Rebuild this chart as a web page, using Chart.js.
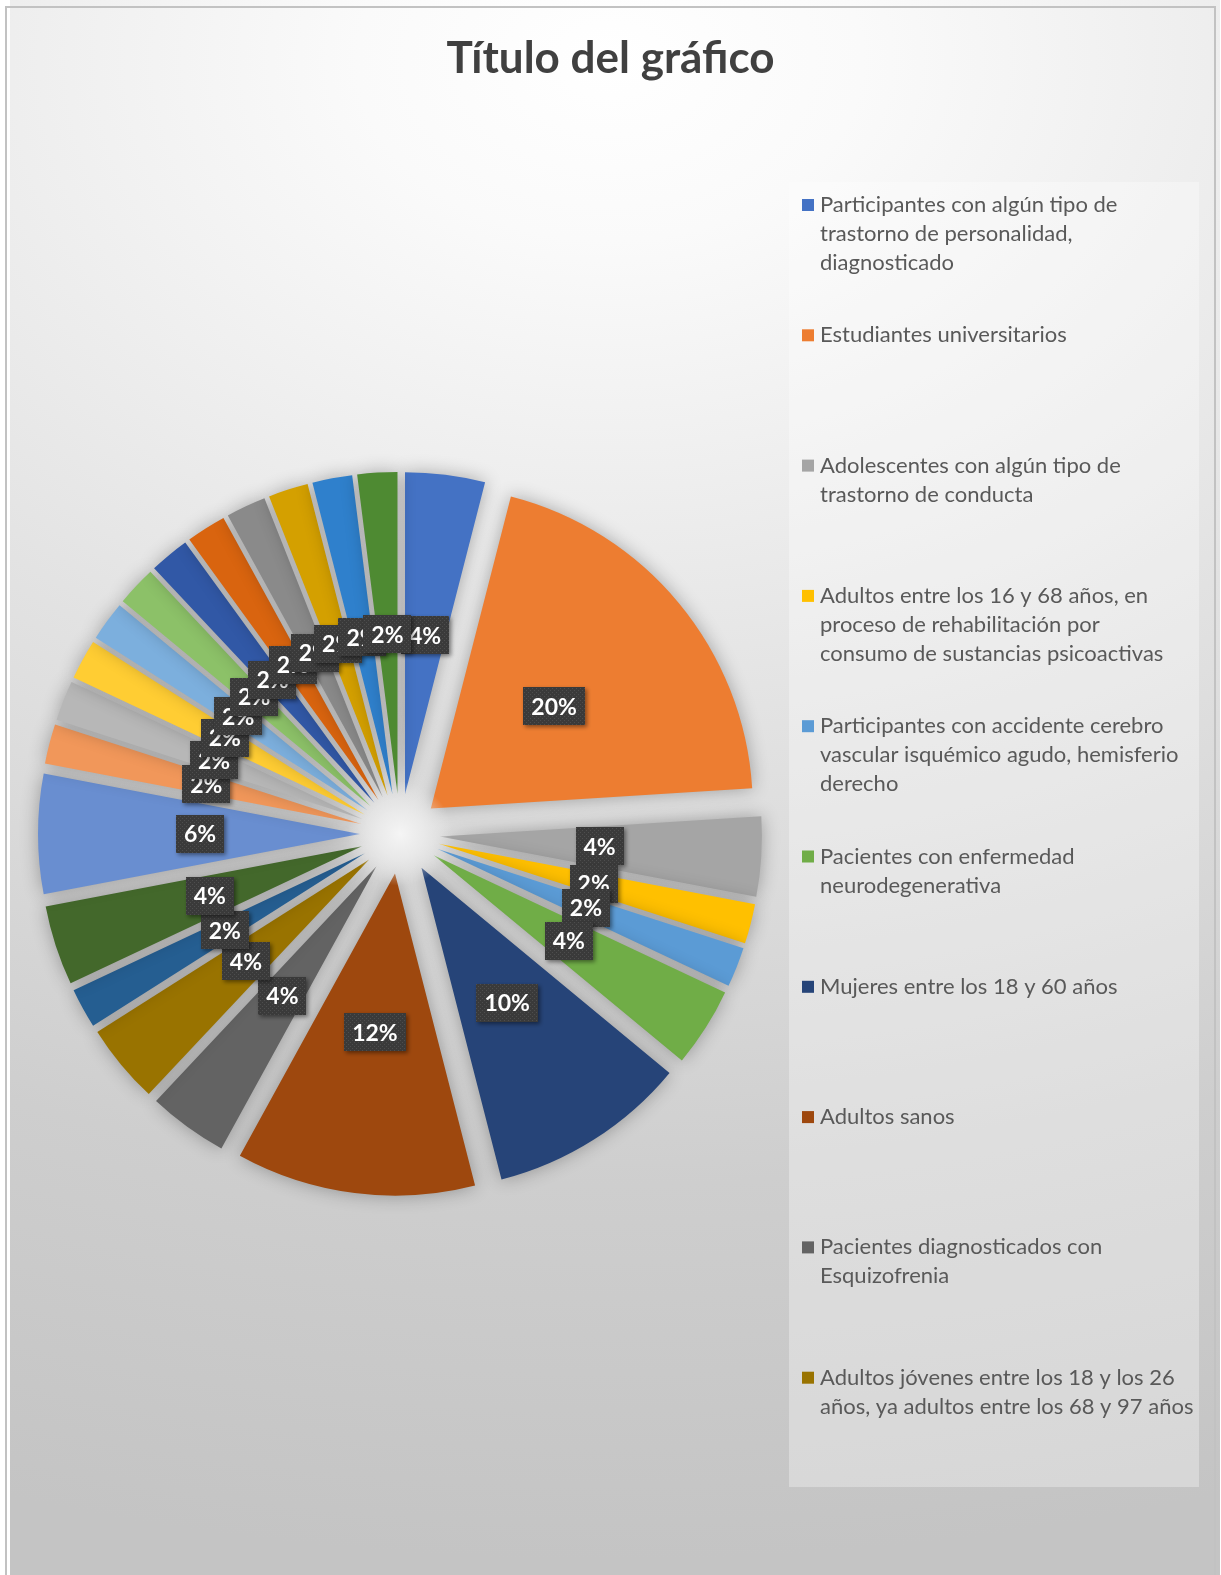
<!DOCTYPE html>
<html lang="es">
<head>
<meta charset="utf-8">
<title>Título del gráfico</title>
<script src="https://cdn.jsdelivr.net/npm/chart.js@4.4.1/dist/chart.umd.min.js"></script>
<style>
  html, body { margin: 0; padding: 0; background: #fff; }
  canvas { display: block; }
</style>
</head>
<body>
<canvas id="chart" width="1221" height="1575"></canvas>
<script>
// categorias en el orden del circulo (las 14 ultimas no aparecen en la leyenda original)
const categories = [
  'Participantes con algún tipo de trastorno de personalidad, diagnosticado',
  'Estudiantes universitarios',
  'Adolescentes con algún tipo de trastorno de conducta',
  'Adultos entre los 16 y 68 años, en proceso de rehabilitación por consumo de sustancias psicoactivas',
  'Participantes con accidente cerebro vascular isquémico agudo, hemisferio derecho',
  'Pacientes con enfermedad neurodegenerativa',
  'Mujeres entre los 18 y 60 años',
  'Adultos sanos',
  'Pacientes diagnosticados con Esquizofrenia',
  'Adultos jóvenes entre los 18 y los 26 años, ya adultos entre los 68 y 97 años',
  'Categoría 11', 'Categoría 12', 'Categoría 13', 'Categoría 14', 'Categoría 15',
  'Categoría 16', 'Categoría 17', 'Categoría 18', 'Categoría 19', 'Categoría 20',
  'Categoría 21', 'Categoría 22', 'Categoría 23', 'Categoría 24'
];
const counts = [2, 10, 2, 1, 1, 2, 5, 6, 2, 2, 1, 2, 3, 1, 1, 1, 1, 1, 1, 1, 1, 1, 1, 1];
const colors = [
  '#4472C4', '#ED7D31', '#A5A5A5', '#FFC000', '#5B9BD5', '#70AD47',
  '#264478', '#9E480E', '#636363', '#997300', '#255E91', '#43682B',
  '#698ED0', '#F1975A', '#B7B7B7', '#FFCD33', '#7CAFDD', '#8CC168',
  '#3158A6', '#D9640F', '#8A8A8A', '#D4A000', '#2F80CC', '#4E8A32'
];
// texto de la leyenda tal como se corta en el original
const legendLines = [
  ['Participantes con algún tipo de', 'trastorno de personalidad,', 'diagnosticado'],
  ['Estudiantes universitarios'],
  ['Adolescentes con algún tipo de', 'trastorno de conducta'],
  ['Adultos entre los 16 y 68 años, en', 'proceso de rehabilitación por', 'consumo de sustancias psicoactivas'],
  ['Participantes con accidente cerebro', 'vascular isquémico agudo, hemisferio', 'derecho'],
  ['Pacientes con enfermedad', 'neurodegenerativa'],
  ['Mujeres entre los 18 y 60 años'],
  ['Adultos sanos'],
  ['Pacientes diagnosticados con', 'Esquizofrenia'],
  ['Adultos jóvenes entre los 18 y los 26', 'años, ya adultos entre los 68 y 97 años']
];

const OFFSET = 160;      // chart.js translates arcs by offset/4
const LABEL_DIST = 200;  // distance of data labels from pie centre

// dotted fill for the label boxes
const pc = document.createElement('canvas');
pc.width = pc.height = 4;
const pctx = pc.getContext('2d');
pctx.fillStyle = '#3a3a3a'; pctx.fillRect(0, 0, 4, 4);
pctx.fillStyle = '#4e4e4e'; pctx.fillRect(0, 0, 1, 1); pctx.fillRect(2, 2, 1, 1);

const excelPie = {
  id: 'excelPie',
  beforeDraw(chart) {
    const ctx = chart.ctx;
    ctx.save();
    ctx.fillStyle = '#fff';
    ctx.fillRect(0, 0, chart.width, chart.height);
    ctx.translate(610, 60);
    ctx.scale(1.4, 1);
    const g = ctx.createRadialGradient(0, 0, 0, 0, 0, 1500);
    g.addColorStop(0, '#ffffff');
    g.addColorStop(0.12, '#fafafa');
    g.addColorStop(0.45, '#e2e2e2');
    g.addColorStop(0.75, '#cecece');
    g.addColorStop(1, '#c4c4c4');
    ctx.fillStyle = g;
    ctx.fillRect(-600 / 1.4, -60, 1210 / 1.4, 1600);
    ctx.restore();
    ctx.save();
    ctx.strokeStyle = '#c2c2c2';
    ctx.lineWidth = 2;
    ctx.strokeRect(6, 7, 1209, 1580);
    ctx.restore();
  },
  afterLayout(chart) {
    // title is centred on the whole canvas, not on the padded area
    const tb = chart.titleBlock;
    if (tb) { tb.left = 0; tb.right = chart.width; tb.width = chart.width; }
  },
  beforeDatasetDraw(chart, args) {
    // undo chart.js's radius/angle tweak for offset arcs so every exploded
    // slice keeps the same radius and its full angle
    args.meta.data.forEach(arc => {
      const off = (arc.options.offset || 0) / 4;
      const fix = 1 - Math.sin(Math.min(Math.PI, arc.circumference));
      const ro = off * fix;
      const R = arc.outerRadius;
      const d = ro / (Math.PI * R);
      arc.$saved = [R, arc.startAngle, arc.endAngle];
      arc.outerRadius = R - ro;
      arc.startAngle -= d / 2;
      arc.endAngle += d / 2;
    });
    const ctx = chart.ctx;
    ctx.save();
    ctx.shadowColor = 'rgba(0,0,0,0.3)';
    ctx.shadowBlur = 18;
  },
  afterDatasetDraw(chart, args) {
    const ctx = chart.ctx;
    ctx.restore();
    const arcs = args.meta.data;
    arcs.forEach(arc => {
      [arc.outerRadius, arc.startAngle, arc.endAngle] = arc.$saved;
    });

    // soft light in the middle
    const cx = arcs[0].x, cy = arcs[0].y;
    const glow = ctx.createRadialGradient(cx, cy, 0, cx, cy, 52);
    glow.addColorStop(0, 'rgba(245,245,245,1)');
    glow.addColorStop(0.45, 'rgba(236,236,236,0.85)');
    glow.addColorStop(1, 'rgba(230,230,230,0)');
    ctx.fillStyle = glow;
    ctx.beginPath(); ctx.arc(cx, cy, 52, 0, Math.PI * 2); ctx.fill();

    // data labels
    const data = chart.data.datasets[0].data;
    const total = data.reduce((a, b) => a + b, 0);
    const pattern = ctx.createPattern(pc, 'repeat');
    ctx.font = 'bold 23px Lato';
    ctx.textAlign = 'center';
    ctx.textBaseline = 'middle';
    arcs.forEach((arc, i) => {
      const mid = (arc.startAngle + arc.endAngle) / 2;
      const x = arc.x + Math.cos(mid) * LABEL_DIST;
      const y = arc.y + Math.sin(mid) * LABEL_DIST;
      const txt = Math.round(data[i] / total * 100) + '%';
      const w = ctx.measureText(txt).width + 16, h = 38;
      ctx.save();
      ctx.shadowColor = 'rgba(0,0,0,0.45)';
      ctx.shadowBlur = 4; ctx.shadowOffsetX = 2; ctx.shadowOffsetY = 2;
      ctx.fillStyle = pattern;
      ctx.fillRect(Math.round(x - w / 2), Math.round(y - h / 2), Math.round(w), h);
      ctx.restore();
      ctx.fillStyle = '#ffffff';
      ctx.fillText(txt, x, y + 1);
    });
  },
  afterDraw(chart) {
    // legend box: only the first ten entries are shown, like in the original
    const ctx = chart.ctx;
    const colorsUsed = chart.data.datasets[0].backgroundColor;
    ctx.save();
    ctx.fillStyle = 'rgba(255,255,255,0.32)';
    ctx.fillRect(789, 182, 410, 1305);
    ctx.font = '22px Lato';
    ctx.textAlign = 'left';
    ctx.textBaseline = 'alphabetic';
    legendLines.forEach((lines, i) => {
      const base = 212 + i * 130.3;
      ctx.fillStyle = colorsUsed[i];
      ctx.fillRect(802, base - 13, 12, 12);
      ctx.fillStyle = '#595959';
      lines.forEach((l, j) => ctx.fillText(l, 820, base + j * 29));
    });
    ctx.restore();
  }
};

function build() {
  new Chart(document.getElementById('chart'), {
    type: 'pie',
    data: {
      labels: categories,
      datasets: [{
        data: counts,
        backgroundColor: colors,
        borderWidth: 0,
        offset: OFFSET,
        hoverOffset: 0,
      }],
    },
    options: {
      responsive: false,
      animation: false,
      events: [],
      radius: 322,
      layout: { padding: { left: 40, right: 461, top: 0, bottom: 377 } },
      plugins: {
        legend: { display: false },
        tooltip: { enabled: false },
        title: {
          display: true,
          text: 'Título del gráfico',
          color: '#404040',
          font: { family: 'Lato', size: 44, weight: 'bold', lineHeight: 1.2 },
          padding: { top: 32, bottom: 385 },
        },
      },
    },
    plugins: [excelPie],
  });
}

Promise.all([
  document.fonts.load('bold 44px Lato'),
  document.fonts.load('22px Lato'),
]).catch(() => {}).then(build);
</script>
</body>
</html>
